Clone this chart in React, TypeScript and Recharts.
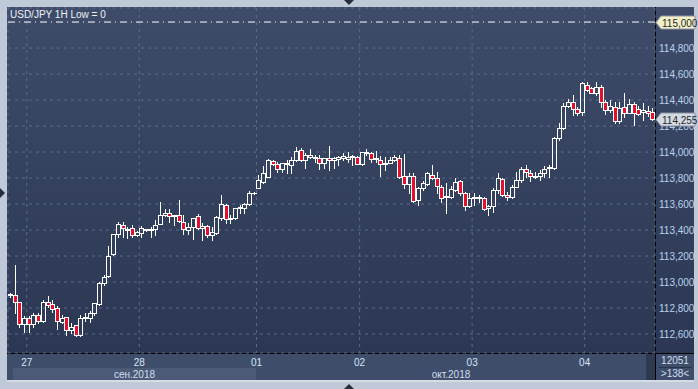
import React from 'react'
import { ComposedChart, Bar, XAxis, YAxis, CartesianGrid, ReferenceLine } from 'recharts'

// USD/JPY 1H, 138 hourly bars, 26.09 late -> 04.10.2018
const openPrices = [
  112.900, 112.900, 112.846, 112.677, 112.723, 112.677, 112.746, 112.700, 112.846, 112.831,
  112.800, 112.692, 112.731, 112.631, 112.669, 112.592, 112.723, 112.723, 112.762, 112.831,
  112.992, 113.046, 113.215, 113.369, 113.438, 113.400, 113.415, 113.362, 113.377, 113.408,
  113.400, 113.408, 113.446, 113.515, 113.531, 113.508, 113.515, 113.462, 113.400, 113.423,
  113.508, 113.415, 113.431, 113.362, 113.377, 113.492, 113.592, 113.485, 113.492, 113.569,
  113.569, 113.600, 113.685, 113.723, 113.769, 113.808, 113.931, 113.908, 113.869, 113.908,
  113.900, 113.938, 114.015, 113.938, 113.962, 113.962, 113.954, 113.915, 113.954, 113.938,
  113.946, 113.954, 113.946, 113.962, 113.962, 113.908, 113.992, 113.992, 113.946, 113.938,
  113.908, 113.915, 113.938, 113.954, 113.815, 113.754, 113.815, 113.631, 113.723, 113.754,
  113.823, 113.800, 113.731, 113.654, 113.654, 113.708, 113.777, 113.685, 113.585, 113.646,
  113.646, 113.646, 113.569, 113.585, 113.708, 113.792, 113.669, 113.654, 113.731, 113.785,
  113.869, 113.838, 113.808, 113.815, 113.838, 113.877, 113.877, 114.108, 114.185, 114.354,
  114.385, 114.331, 114.308, 114.515, 114.492, 114.454, 114.500, 114.385, 114.323, 114.346,
  114.238, 114.346, 114.300, 114.369, 114.331, 114.308, 114.315, 114.308,
]
const highPrices = [
  112.915, 113.131, 112.846, 112.738, 112.738, 112.762, 112.762, 112.862, 112.892, 112.862,
  112.815, 112.746, 112.731, 112.685, 112.669, 112.746, 112.762, 112.777, 112.838, 113.000,
  113.054, 113.277, 113.369, 113.462, 113.462, 113.423, 113.438, 113.392, 113.431, 113.408,
  113.423, 113.477, 113.615, 113.562, 113.562, 113.515, 113.631, 113.515, 113.454, 113.492,
  113.523, 113.454, 113.438, 113.423, 113.508, 113.669, 113.600, 113.515, 113.569, 113.592,
  113.608, 113.700, 113.692, 113.823, 113.892, 113.946, 113.938, 113.923, 113.915, 113.938,
  113.962, 114.038, 114.031, 113.992, 114.023, 113.977, 113.977, 113.954, 114.046, 113.962,
  113.969, 113.992, 114.000, 113.975, 113.969, 114.000, 114.023, 114.000, 114.008, 113.969,
  113.962, 113.962, 113.977, 113.977, 113.985, 113.838, 113.838, 113.731, 113.777, 113.846,
  113.900, 113.846, 113.746, 113.762, 113.738, 113.800, 113.785, 113.692, 113.685, 113.685,
  113.669, 113.654, 113.592, 113.723, 113.838, 113.800, 113.692, 113.746, 113.846, 113.885,
  113.900, 113.862, 113.846, 113.862, 113.892, 113.900, 114.115, 114.223, 114.377, 114.408,
  114.438, 114.346, 114.538, 114.538, 114.500, 114.538, 114.515, 114.400, 114.400, 114.385,
  114.385, 114.454, 114.408, 114.385, 114.354, 114.377, 114.354, 114.338,
]
const lowPrices = [
  112.885, 112.762, 112.654, 112.615, 112.615, 112.654, 112.685, 112.692, 112.808, 112.769,
  112.638, 112.685, 112.592, 112.608, 112.585, 112.585, 112.700, 112.692, 112.746, 112.823,
  112.977, 113.038, 113.208, 113.346, 113.346, 113.338, 113.346, 113.354, 113.346, 113.392,
  113.346, 113.362, 113.446, 113.508, 113.462, 113.438, 113.462, 113.369, 113.369, 113.331,
  113.408, 113.323, 113.346, 113.323, 113.369, 113.477, 113.454, 113.454, 113.485, 113.531,
  113.531, 113.592, 113.677, 113.723, 113.762, 113.808, 113.900, 113.846, 113.846, 113.838,
  113.838, 113.931, 113.931, 113.877, 113.954, 113.923, 113.869, 113.877, 113.862, 113.877,
  113.900, 113.938, 113.923, 113.900, 113.908, 113.900, 113.977, 113.923, 113.923, 113.815,
  113.862, 113.915, 113.931, 113.800, 113.723, 113.685, 113.615, 113.592, 113.708, 113.746,
  113.792, 113.685, 113.615, 113.531, 113.646, 113.700, 113.669, 113.554, 113.577, 113.592,
  113.615, 113.554, 113.515, 113.538, 113.685, 113.662, 113.631, 113.646, 113.731, 113.769,
  113.808, 113.777, 113.800, 113.785, 113.808, 113.808, 113.869, 114.092, 114.177, 114.346,
  114.285, 114.285, 114.285, 114.469, 114.454, 114.438, 114.346, 114.292, 114.308, 114.223,
  114.223, 114.269, 114.300, 114.208, 114.285, 114.246, 114.277, 114.246,
]
const closePrices = [
  112.908, 112.846, 112.677, 112.723, 112.677, 112.746, 112.700, 112.846, 112.823, 112.792,
  112.700, 112.723, 112.631, 112.654, 112.592, 112.723, 112.731, 112.762, 112.838, 112.992,
  113.038, 113.200, 113.369, 113.446, 113.415, 113.408, 113.362, 113.385, 113.415, 113.400,
  113.408, 113.438, 113.515, 113.531, 113.508, 113.515, 113.469, 113.408, 113.423, 113.492,
  113.415, 113.431, 113.362, 113.385, 113.500, 113.600, 113.485, 113.492, 113.569, 113.577,
  113.600, 113.685, 113.688, 113.785, 113.838, 113.938, 113.908, 113.869, 113.915, 113.915,
  113.938, 114.008, 113.938, 113.977, 113.977, 113.954, 113.915, 113.954, 113.938, 113.954,
  113.962, 113.969, 113.962, 113.969, 113.908, 114.000, 114.000, 113.946, 113.954, 113.908,
  113.915, 113.938, 113.962, 113.808, 113.754, 113.815, 113.623, 113.723, 113.762, 113.838,
  113.800, 113.738, 113.646, 113.662, 113.715, 113.769, 113.685, 113.585, 113.646, 113.654,
  113.654, 113.562, 113.585, 113.708, 113.800, 113.669, 113.654, 113.731, 113.785, 113.869,
  113.846, 113.815, 113.815, 113.838, 113.869, 113.885, 114.108, 114.185, 114.354, 114.385,
  114.331, 114.300, 114.531, 114.477, 114.454, 114.500, 114.385, 114.323, 114.354, 114.238,
  114.338, 114.300, 114.369, 114.300, 114.292, 114.323, 114.300, 114.255,
]

// bar index where each day starts
const dayTicks = [4, 28, 53, 75, 99, 123]
const dayLabels = ['27', '28', '01', '02', '03', '04']
const priceTicks = [112.6, 112.8, 113.0, 113.2, 113.4, 113.6, 113.8, 114.0, 114.2, 114.4, 114.6, 114.8]
const alertLevel = 115.0
const lastPrice = 114.255

const FONT = '"Liberation Sans", Arial, sans-serif'
const RED = '#e3102c'
const Y_DOMAIN = [112.454, 115.108]

const data = openPrices.map((o, i) => ({
  x: i + 0.5,
  open: o,
  high: highPrices[i],
  low: lowPrices[i],
  close: closePrices[i],
  range: [lowPrices[i], highPrices[i]],
}))

const fmt = (v: number) => v.toFixed(3).replace('.', ',')

const Candle = (props: any) => {
  const { x, y, width, height, payload } = props
  const { open, close, high, low } = payload
  const top = Math.min(y, y + height)
  const h = Math.abs(height)
  const k = h / (high - low)
  const py = (v: number) => top + (high - v) * k
  const cx = Math.round(x + width / 2) + 0.5
  const yo = py(open)
  const yc = py(close)
  const bt = Math.round(Math.min(yo, yc)) + 0.5
  const bb = Math.round(Math.max(yo, yc)) + 0.5
  const yh = Math.round(top)
  const yl = Math.round(top + h) + 1
  const up = close >= open
  return (
    <g>
      <line x1={cx} x2={cx} y1={yh} y2={bt} stroke="#fff" strokeWidth={1} />
      <line x1={cx} x2={cx} y1={bb} y2={yl} stroke="#fff" strokeWidth={1} />
      {bb - bt < 1 ? (
        <line x1={cx - 2.5} x2={cx + 2.5} y1={bt} y2={bt} stroke="#fff" strokeWidth={1} />
      ) : (
        <rect x={cx - 2} y={bt} width={4} height={bb - bt} fill={up ? 'none' : RED} stroke="#fff" strokeWidth={1} />
      )}
    </g>
  )
}

const DayTick = (props: any) => {
  const { x, y, payload } = props
  const idx = dayTicks.indexOf(payload.value)
  return (
    <text x={x} y={y + 11} textAnchor="middle" fontSize={10} fontFamily={FONT} fill="#d6e4f6">
      {dayLabels[idx]}
    </text>
  )
}

const PriceTick = (props: any) => {
  const { y, payload } = props
  return (
    <text x={659} y={y + 4} textAnchor="start" fontSize={10} fontFamily={FONT} fill="#bcd2ee">
      {fmt(payload.value)}
    </text>
  )
}

// price tags drawn on a second, 1px axis so they sit above the scale labels
const TagTick = (props: any) => {
  const { y, payload } = props
  const isAlert = payload.value === alertLevel
  const bg = isAlert ? '#f3efc6' : '#d5dae1'
  const x0 = 656
  const yy = Math.round(y) + 0.5
  const pts = `${x0},${yy} ${x0 + 5},${yy - 6.5} ${x0 + 39},${yy - 6.5} ${x0 + 39},${yy + 6.5} ${x0 + 5},${yy + 6.5}`
  return (
    <g>
      <polygon points={pts} fill={bg} stroke="#8c96a4" strokeWidth={1} />
      <text x={x0 + 6} y={yy + 4} fontSize={10} fontFamily={FONT} fill="#202830">
        {fmt(payload.value)}
      </text>
    </g>
  )
}

const abs = (l: number, t: number, w: number, h: number, extra: React.CSSProperties = {}): React.CSSProperties => ({
  position: 'absolute',
  left: l,
  top: t,
  width: w,
  height: h,
  ...extra,
})

export default function App() {
  return (
    <div style={{ position: 'absolute', left: 0, top: 0, width: 698, height: 389, background: '#bfc9d7', overflow: 'hidden' }}>
      {/* panels */}
      <div style={abs(7, 7, 687, 347, { background: 'linear-gradient(#3e4c69, #2b3753)' })} />
      <div style={abs(7, 354, 687, 26, { background: '#3e4d6a' })} />
      <div style={abs(13, 368, 243, 12, { background: '#4b5b77' })} />
      <div style={abs(646, 354, 9, 26, { background: '#2e3a52' })} />
      <div style={abs(655, 7, 1, 373, { background: '#000' })} />
      <div style={abs(7, 353, 687, 1, { background: '#000' })} />
      <div style={abs(658, 367, 34, 1, { background: '#2a3448' })} />
      <div style={abs(7, 380, 687, 2, { background: '#d6dce4' })} />

      {/* little arrows on the frame */}
      <div style={abs(344, 0, 0, 0, { borderLeft: '5px solid transparent', borderRight: '5px solid transparent', borderTop: '5px solid #262e3a' })} />
      <div style={abs(344, 384, 0, 0, { borderLeft: '5px solid transparent', borderRight: '5px solid transparent', borderBottom: '5px solid #262e3a' })} />
      <div style={abs(0, 188, 0, 0, { borderTop: '5px solid transparent', borderBottom: '5px solid transparent', borderLeft: '5px solid #262e3a' })} />

      <div style={{ position: 'absolute', left: 0, top: 0 }}>
        <ComposedChart width={698} height={389} data={data} margin={{ top: 8, right: 0, bottom: 0, left: 8 }}>
          <CartesianGrid stroke="#5a6b8b" strokeDasharray="3 4" />
          <XAxis
            type="number"
            dataKey="x"
            domain={[0, 138]}
            ticks={dayTicks}
            height={36}
            axisLine={false}
            tickLine={false}
            tickSize={0}
            tick={(p: any) => <DayTick {...p} />}
            interval={0}
          />
          <YAxis
            orientation="right"
            domain={Y_DOMAIN}
            ticks={priceTicks}
            width={42}
            axisLine={false}
            tickLine={false}
            allowDataOverflow
            tick={(p: any) => <PriceTick {...p} />}
            interval={0}
          />
          <YAxis
            yAxisId="tags"
            orientation="right"
            domain={Y_DOMAIN}
            ticks={[alertLevel, lastPrice]}
            width={1}
            axisLine={false}
            tickLine={false}
            allowDataOverflow
            tick={(p: any) => <TagTick {...p} />}
            interval={0}
          />
          <ReferenceLine y={alertLevel} stroke="#ffffff" strokeDasharray="7 4 1 4" />
          <Bar dataKey="range" barSize={4} shape={<Candle />} isAnimationActive={false} />
        </ComposedChart>
      </div>

      {/* header and time scale texts */}
      <div style={abs(10, 9, 200, 14, { font: `10px ${FONT}`, color: '#eef2f8', whiteSpace: 'nowrap' })}>USD/JPY 1H Low = 0</div>
      <div style={abs(13, 369, 243, 11, { font: `10px ${FONT}`, color: '#d2def0', textAlign: 'center', lineHeight: '11px' })}>сен.2018</div>
      <div style={abs(256, 369, 390, 11, { font: `10px ${FONT}`, color: '#d2def0', textAlign: 'center', lineHeight: '11px' })}>окт.2018</div>
      <div style={abs(656, 355, 38, 12, { font: `10px ${FONT}`, color: '#d2def0', textAlign: 'center', lineHeight: '12px' })}>12051</div>
      <div style={abs(656, 368, 38, 12, { font: `10px ${FONT}`, color: '#d2def0', textAlign: 'center', lineHeight: '12px' })}>&gt;138&lt;</div>
    </div>
  )
}
